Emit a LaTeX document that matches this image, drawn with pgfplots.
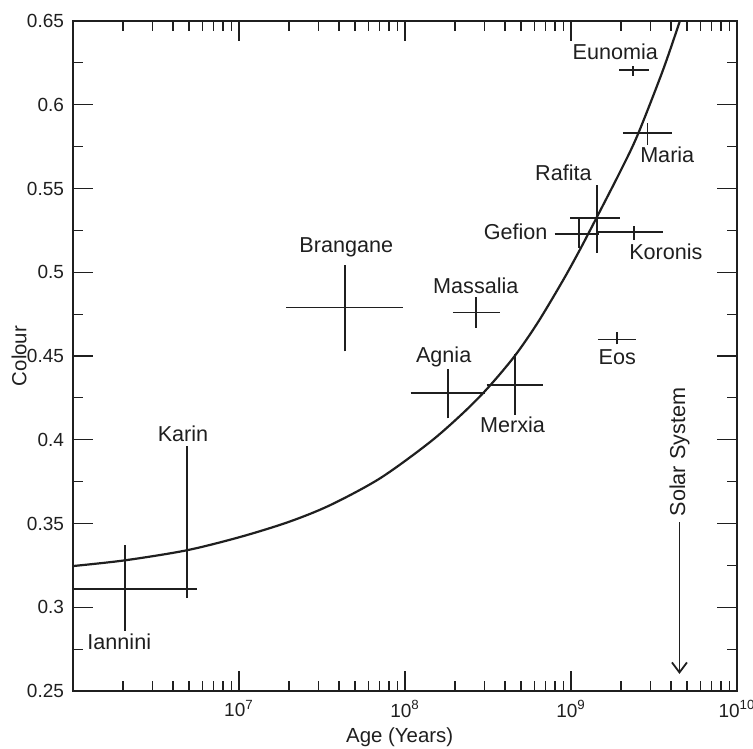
\documentclass[border=0pt]{standalone}
\usepackage{fontspec}
\setmainfont{Liberation Sans}
\usepackage{pgfplots}
\pgfplotsset{compat=1.18}
\usetikzlibrary{arrows.meta}
\definecolor{ink}{gray}{0.12}
\begin{document}
\begin{tikzpicture}
\begin{axis}[
  name=ax,
  scale only axis,
  width=332pt, height=335pt,
  xmode=log,
  xmin=1e6, xmax=1e10,
  ymin=0.25, ymax=0.65,
  axis line style={ink, line width=0.7pt},
  every tick/.style={ink, line width=0.6pt},
  tick align=inside,
  major tick length=10pt,
  minor tick length=5pt,
  xtick={1e7,1e8,1e9,1e10},
  xticklabels={10\textsuperscript{7},10\textsuperscript{8},10\textsuperscript{9},10\textsuperscript{10}},
  minor xtick={2e6,3e6,4e6,5e6,6e6,7e6,8e6,9e6,2e7,3e7,4e7,5e7,6e7,7e7,8e7,9e7,2e8,3e8,4e8,5e8,6e8,7e8,8e8,9e8,2e9,3e9,4e9,5e9,6e9,7e9,8e9,9e9},
  ytick={0.25,0.3,0.35,0.4,0.45,0.5,0.55,0.6,0.65},
  yticklabels={0.25,0.3,0.35,0.4,0.45,0.5,0.55,0.6,0.65},
  minor y tick num=1,
  tick label style={font=\fontsize{9.5}{11}\selectfont, text=ink},
  xticklabel style={yshift=-1pt},
  yticklabel style={xshift=-1pt},
  xlabel={Age (Years)},
  ylabel={Colour},
  label style={font=\fontsize{10.2}{12}\selectfont, text=ink},
  x label style={at={(axis description cs:0.492,-0.0687)}, anchor=center},
  y label style={at={(axis description cs:-0.0813,0.5)}, anchor=center, rotate=0},
  clip=true,
]
% fitted curve
\addplot[ink, line width=1.1pt, smooth] coordinates {
 (1e6,0.3246) (2.05e6,0.3280) (4.84e6,0.3340) (1.02e7,0.3420) (2.0e7,0.3510)
 (3.55e7,0.3610) (7.08e7,0.3770) (1.41e8,0.3985) (2.24e8,0.4160) (3.16e8,0.4310)
 (4.58e8,0.4500) (6.31e8,0.4700) (8.93e8,0.4950) (1.125e9,0.5130) (1.416e9,0.5320)
 (2.0e9,0.5610) (2.52e9,0.5820) (3.56e9,0.6200) (4.53e9,0.6500) (5.01e9,0.6626)};
% Iannini
\addplot[ink, line width=0.9pt] coordinates {(1e6,0.311) (5.6e6,0.311)};
\addplot[ink, line width=0.9pt] coordinates {(2.05e6,0.286) (2.05e6,0.337)};
% Karin
\addplot[ink, line width=0.9pt] coordinates {(4.85e6,0.3055) (4.85e6,0.396)};
% Brangane
\addplot[ink, line width=0.9pt] coordinates {(1.93e7,0.479) (9.7e7,0.479)};
\addplot[ink, line width=0.9pt] coordinates {(4.37e7,0.4527) (4.37e7,0.5046)};
% Massalia
\addplot[ink, line width=0.9pt] coordinates {(1.94e8,0.476) (3.72e8,0.476)};
\addplot[ink, line width=0.9pt] coordinates {(2.69e8,0.467) (2.69e8,0.485)};
% Agnia
\addplot[ink, line width=0.9pt] coordinates {(1.08e8,0.428) (3.02e8,0.428)};
\addplot[ink, line width=0.9pt] coordinates {(1.82e8,0.4128) (1.82e8,0.442)};
% Merxia
\addplot[ink, line width=0.9pt] coordinates {(3.10e8,0.4327) (6.74e8,0.4327)};
\addplot[ink, line width=0.9pt] coordinates {(4.58e8,0.415) (4.58e8,0.451)};
% Rafita
\addplot[ink, line width=0.9pt] coordinates {(9.9e8,0.5324) (1.97e9,0.5324)};
\addplot[ink, line width=0.9pt] coordinates {(1.43e9,0.5117) (1.43e9,0.552)};
% Gefion
\addplot[ink, line width=0.9pt] coordinates {(7.96e8,0.523) (1.48e9,0.523)};
\addplot[ink, line width=0.9pt] coordinates {(1.12e9,0.5147) (1.12e9,0.5326)};
% Koronis
\addplot[ink, line width=0.9pt] coordinates {(1.44e9,0.5238) (3.6e9,0.5238)};
\addplot[ink, line width=0.9pt] coordinates {(2.40e9,0.5195) (2.40e9,0.5274)};
% Eunomia
\addplot[ink, line width=0.9pt] coordinates {(1.95e9,0.6208) (2.93e9,0.6208)};
\addplot[ink, line width=0.9pt] coordinates {(2.37e9,0.6172) (2.37e9,0.6232)};
% Maria
\addplot[ink, line width=0.9pt] coordinates {(2.05e9,0.5831) (4.06e9,0.5831)};
\addplot[ink, line width=0.9pt] coordinates {(2.89e9,0.5761) (2.89e9,0.5892)};
% Eos
\addplot[ink, line width=0.9pt] coordinates {(1.45e9,0.4599) (2.47e9,0.4599)};
\addplot[ink, line width=0.9pt] coordinates {(1.90e9,0.4569) (1.90e9,0.4642)};
% labels
\begin{scope}[every node/.style={font=\fontsize{10.8}{12}\selectfont, text=ink, inner sep=0pt}]
\node at (axis cs:1.85e9,0.6315) {Eunomia};
\node at (axis cs:3.8e9,0.5701) {Maria};
\node at (axis cs:9.0e8,0.5592) {Rafita};
\node at (axis cs:4.64e8,0.5244) {Gefion};
\node at (axis cs:3.73e9,0.5125) {Koronis};
\node at (axis cs:2.67e8,0.4917) {Massalia};
\node at (axis cs:4.43e7,0.5147) {Brangane};
\node at (axis cs:1.71e8,0.4492) {Agnia};
\node at (axis cs:4.44e8,0.4092) {Merxia};
\node at (axis cs:1.9e9,0.4495) {Eos};
\node at (axis cs:4.6e6,0.4033) {Karin};
\node at (axis cs:1.9e6,0.2791) {Iannini};
\node[rotate=90] at (axis cs:4.5e9,0.3926) {Solar System};
\end{scope}
\draw[ink, line width=0.9pt, -{Straight Barb[length=5pt,width=7.5pt]}] (axis cs:4.5e9,0.3508) -- (axis cs:4.5e9,0.2602);
\end{axis}
\pgfresetboundingbox
\path[use as bounding box] ([xshift=-36.5pt,yshift=-28.5pt]ax.south west) rectangle ([xshift=8pt,yshift=10.5pt]ax.north east);
\end{tikzpicture}
\end{document}
